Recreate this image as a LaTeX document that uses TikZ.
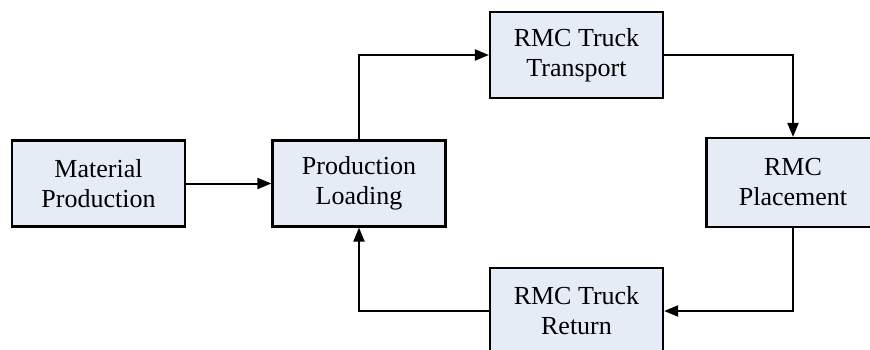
\documentclass[tikz,border=0pt]{standalone}
\usepackage{fontspec}
\setmainfont{Liberation Serif}
\usetikzlibrary{arrows.meta}
\definecolor{boxfill}{RGB}{230,236,246}
\begin{document}
\begin{tikzpicture}[x=1pt, y=-1pt,
    stage/.style={draw, line width=2.2pt, fill=boxfill, align=center,
      minimum width=173pt, minimum height=86pt, inner sep=0pt,
      font=\fontsize{26}{30}\selectfont},
    flow/.style={line width=2pt, -{Triangle[length=14pt, width=11pt]}}]
    \useasboundingbox (0, 0) rectangle (870, 350);
    \clip (0, 0) rectangle (870, 350);
    \node [stage] (mat) at (98.5, 183.5) {Material\\Production};
    \node [stage] (load) at (359, 183.5) {Production\\Loading};
    \node [stage] (trans) at (576.5, 55) {RMC Truck\\Transport};
    \node [stage, minimum height=89pt] (place) at (793, 182.5) {RMC\\Placement};
    \node [stage] (ret) at (576.5, 311) {RMC Truck\\Return};
    \draw [flow] (mat) -- (load);
    \draw [flow] (load.north) |- (trans.west);
    \draw [flow] (trans.east) -| (place.north);
    \draw [flow] (place.south) |- (ret.east);
    \draw [flow] (ret.west) -| (load.south);
  \end{tikzpicture}
\end{document}
